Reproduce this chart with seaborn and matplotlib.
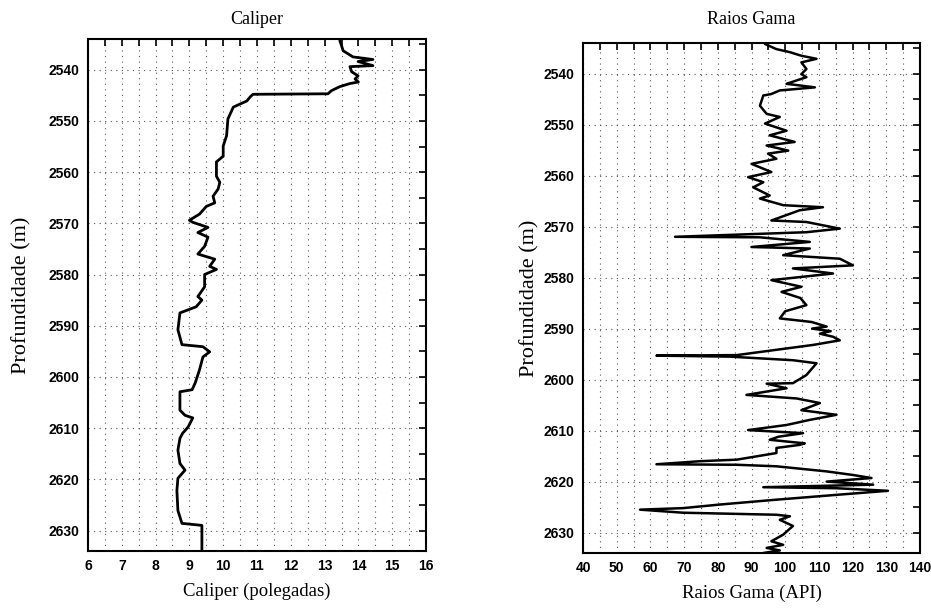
import matplotlib
matplotlib.use("Agg")
import matplotlib.pyplot as plt
import numpy as np
import pandas as pd
import seaborn as sns
from matplotlib.ticker import MultipleLocator

# caliper log (depth in m, caliper in inches)
cal_depth = [2534.3, 2536.3, 2537.5, 2538.0, 2538.4, 2539.2, 2539.4, 2540.4, 2541.2, 2541.8,
             2542.4, 2542.7, 2543.3, 2544.1, 2544.7, 2544.8, 2545.3, 2546.1, 2546.7, 2547.3,
             2549.6, 2552.9, 2554.9, 2556.9, 2558.0, 2560.8, 2562.0, 2563.3, 2564.7, 2566.0,
             2566.7, 2568.2, 2569.4, 2569.8, 2570.8, 2571.8, 2572.7, 2574.5, 2576.0, 2577.0,
             2578.4, 2579.0, 2580.0, 2582.4, 2584.3, 2585.0, 2586.3, 2587.5, 2590.8, 2593.7,
             2594.1, 2595.1, 2596.1, 2598.6, 2601.2, 2602.5, 2602.9, 2606.5, 2607.5, 2608.0,
             2609.8, 2611.0, 2612.0, 2614.3, 2616.9, 2618.2, 2619.8, 2622.2, 2626.1, 2628.6,
             2629.0, 2633.9]
cal_value = [13.45, 13.55, 13.84, 14.43, 13.99, 14.43, 13.75, 13.80, 13.99, 13.90,
             14.00, 13.75, 13.45, 13.20, 13.10, 10.88, 10.80, 10.70, 10.50, 10.30,
             10.14, 10.10, 10.00, 10.00, 9.80, 9.80, 9.90, 9.85, 9.70, 9.75,
             9.50, 9.30, 9.00, 9.10, 9.55, 9.25, 9.55, 9.45, 9.25, 9.75,
             9.60, 9.80, 9.45, 9.45, 9.25, 9.37, 9.20, 8.72, 8.66, 8.78,
             9.40, 9.60, 9.40, 9.30, 9.17, 9.08, 8.72, 8.72, 8.87, 9.10,
             8.96, 8.80, 8.72, 8.66, 8.72, 8.87, 8.66, 8.63, 8.66, 8.78,
             9.37, 9.37]

# gamma ray log (depth in m, API units)
gr_depth = [2534.2, 2535.2, 2535.8, 2536.5, 2537.1, 2537.8, 2539.1, 2540.1, 2540.7, 2542.0,
            2542.7, 2543.3, 2544.0, 2544.3, 2546.3, 2547.9, 2548.5, 2549.8, 2551.2, 2552.1,
            2553.4, 2554.1, 2555.1, 2555.7, 2556.7, 2557.7, 2559.3, 2560.3, 2561.3, 2562.3,
            2563.9, 2564.5, 2565.8, 2566.2, 2566.8, 2568.8, 2569.1, 2570.4, 2571.1, 2572.0,
            2572.1, 2573.0, 2574.0, 2574.3, 2575.6, 2576.3, 2577.6, 2578.2, 2579.2, 2580.5,
            2581.8, 2582.8, 2584.0, 2585.4, 2586.6, 2588.0, 2588.7, 2589.6, 2590.0, 2590.5,
            2591.0, 2591.6, 2592.3, 2593.2, 2594.5, 2595.2, 2595.3, 2595.5, 2596.2, 2596.8,
            2599.1, 2600.7, 2600.8, 2601.7, 2603.0, 2603.7, 2604.6, 2606.0, 2606.9, 2607.9,
            2608.9, 2609.9, 2610.5, 2611.2, 2611.8, 2612.5, 2612.8, 2613.4, 2614.4, 2615.7,
            2616.0, 2616.6, 2616.7, 2617.0, 2618.0, 2618.7, 2619.3, 2620.0, 2620.6, 2621.1,
            2621.3, 2621.8, 2622.6, 2623.6, 2624.5, 2625.2, 2625.5, 2626.1, 2626.5, 2626.8,
            2627.5, 2628.7, 2630.4, 2631.7, 2632.4, 2633.0, 2633.5, 2634.0]
gr_value = [94.0, 97.4, 101.4, 104.8, 109.3, 104.8, 106.3, 104.8, 106.3, 100.4,
            108.8, 98.4, 95.9, 93.5, 92.5, 94.5, 98.4, 94.0, 100.4, 95.4,
            102.8, 94.5, 100.9, 94.9, 97.4, 90.0, 95.9, 89.0, 93.5, 90.5,
            95.4, 92.5, 99.4, 111.2, 104.3, 95.9, 106.3, 116.2, 106.3, 67.3,
            92.5, 107.3, 90.0, 107.3, 99.4, 116.2, 120.1, 102.3, 114.2, 95.9,
            104.8, 98.9, 104.5, 106.3, 100.0, 98.4, 107.8, 112.3, 108.0, 113.5,
            110.3, 114.2, 116.2, 108.3, 93.5, 85.6, 61.8, 83.6, 102.3, 109.3,
            106.3, 102.3, 94.5, 100.4, 88.5, 103.4, 110.3, 104.8, 115.2, 107.3,
            100.4, 89.0, 105.3, 98.0, 95.4, 105.8, 104.3, 97.4, 97.4, 85.6,
            74.7, 61.8, 85.6, 97.4, 112.3, 120.1, 125.6, 112.3, 126.1, 93.5,
            115.2, 130.5, 115.2, 96.4, 80.6, 69.7, 56.9, 69.7, 97.4, 101.4,
            98.4, 102.3, 99.4, 95.9, 99.4, 94.5, 98.4, 93.5]

cal_ticks = list(range(6, 17))
gr_ticks = list(range(40, 141, 10))
depth_ticks = list(range(2540, 2631, 10))

sns.set_style("white")
plt.rcParams["font.family"] = ["Liberation Serif", "DejaVu Serif"]
plt.rcParams["text.color"] = "black"
plt.rcParams["axes.labelcolor"] = "black"
plt.rcParams["xtick.color"] = "black"
plt.rcParams["ytick.color"] = "black"

W, H = 931, 608
fig = plt.figure(figsize=(W / 100, H / 100), dpi=100)
ax1 = fig.add_axes([88 / W, 1 - 551 / H, 338 / W, 512 / H])
ax2 = fig.add_axes([583 / W, 1 - 553 / H, 337 / W, 510 / H])

cal = pd.DataFrame({"depth": cal_depth, "value": cal_value})
gr = pd.DataFrame({"depth": gr_depth, "value": gr_value})

sns.lineplot(data=cal, x="value", y="depth", sort=False, estimator=None,
             color="black", linewidth=2.0, ax=ax1)
sns.lineplot(data=gr, x="value", y="depth", sort=False, estimator=None,
             color="black", linewidth=1.8, ax=ax2)

setup = [
    (ax1, (6, 16), cal_ticks, 0.5, "Caliper", "Caliper (polegadas)", 11, -0.166),
    (ax2, (40, 140), gr_ticks, 5, "Raios Gama", "Raios Gama (API)", 14, -0.13),
]
for ax, xlim, xticks, xminor, title, xlabel, tpad, ylab_x in setup:
    ax.set_xlim(*xlim)
    ax.set_ylim(2634, 2534)
    ax.set_xticks(xticks)
    ax.xaxis.set_minor_locator(MultipleLocator(xminor))
    ax.set_yticks(depth_ticks)
    ax.yaxis.set_minor_locator(MultipleLocator(5))
    ax.grid(which="both", axis="x", color="#555555", linestyle=(0, (1, 4)), linewidth=0.8)
    ax.grid(which="major", axis="y", color="#555555", linestyle=(0, (1, 4)), linewidth=0.8)
    ax.tick_params(which="both", direction="in", top=True, right=True,
                   length=5, width=1.2, color="black", labelcolor="black")
    for lab in ax.get_xticklabels() + ax.get_yticklabels():
        lab.set_family(["Liberation Sans", "DejaVu Sans"])
        lab.set_fontweight("bold")
        lab.set_fontsize(10)
    ax.tick_params(axis="x", pad=6)
    ax.tick_params(axis="y", pad=6)
    for sp in ax.spines.values():
        sp.set_color("black")
        sp.set_linewidth(1.5)
    ax.set_title(title, fontsize=13, pad=tpad, color="black")
    ax.set_xlabel(xlabel, fontsize=13.5, labelpad=7, color="black")
    ax.set_ylabel("Profundidade (m)", fontsize=16, color="black")
    ax.yaxis.set_label_coords(ylab_x, 0.5)

fig.savefig("out.png", dpi=100)
